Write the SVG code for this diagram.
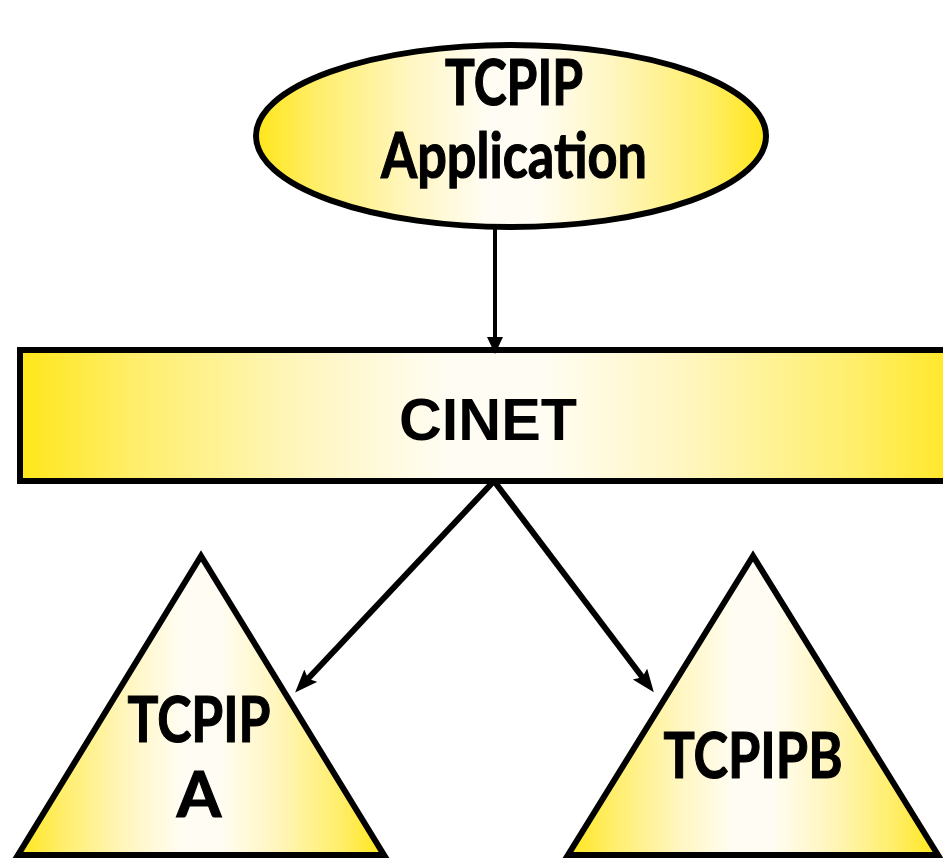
<svg xmlns="http://www.w3.org/2000/svg" width="943" height="858" viewBox="0 0 943 858">
  <defs>
    <linearGradient id="yg" x1="0" y1="0" x2="1" y2="0">
      <stop offset="0" stop-color="#FFE619"/>
      <stop offset="0.12" stop-color="#FFEE6A"/>
      <stop offset="0.3" stop-color="#FFF6C0"/>
      <stop offset="0.45" stop-color="#FFFDF3"/>
      <stop offset="0.55" stop-color="#FFFDF3"/>
      <stop offset="0.7" stop-color="#FFF6C0"/>
      <stop offset="0.88" stop-color="#FFEE6A"/>
      <stop offset="1" stop-color="#FFE619"/>
    </linearGradient>
    <marker id="headBig" markerUnits="userSpaceOnUse" markerWidth="24" markerHeight="20" refX="10" refY="9" orient="auto">
      <path d="M0,0 L23,9 L0,18 L4,9 z" fill="#000"/>
    </marker>
    <marker id="headSmall" markerUnits="userSpaceOnUse" markerWidth="17" markerHeight="17" refX="8" refY="8" orient="auto">
      <path d="M0,0 L17,8 L0,16 z" fill="#000"/>
    </marker>
    <style>
      .shape { fill: url(#yg); stroke: #000; stroke-width: 6; }
      .hum { font-family: Lato, "Open Sans", "Noto Sans", sans-serif; font-weight: 700; font-size: 64px; fill: #000; stroke: #000; stroke-width: 1.2; text-anchor: middle; }
      .arial { font-family: "Liberation Sans", Arial, sans-serif; font-weight: 700; font-size: 60px; fill: #000; text-anchor: middle; }
      .conn { stroke: #000; fill: none; }
    </style>
  </defs>

  <g id="app">
    <ellipse class="shape" cx="511" cy="136" rx="255" ry="91"/>
    <text class="hum" x="514" y="105" textLength="138" lengthAdjust="spacingAndGlyphs">TCPIP</text>
    <text class="hum" x="514" y="178" textLength="266" lengthAdjust="spacingAndGlyphs">Application</text>
  </g>

  <g id="cinet">
    <rect class="shape" x="20" y="350" width="950" height="131"/>
    <text class="arial" x="488" y="440" textLength="178" lengthAdjust="spacingAndGlyphs">CINET</text>
  </g>

  <g id="tcpipa">
    <polygon class="shape" points="201,556 18,855 384,855"/>
    <text class="hum" x="199" y="742" textLength="143" lengthAdjust="spacingAndGlyphs">TCPIP</text>
    <text class="hum" x="199" y="817">A</text>
  </g>

  <g id="tcpipb">
    <polygon class="shape" points="753,556 568,855 938,855"/>
    <text class="hum" x="753" y="778" textLength="179" lengthAdjust="spacingAndGlyphs">TCPIPB</text>
  </g>

  <g id="connectors">
    <line class="conn" x1="495" y1="229" x2="495" y2="345" stroke-width="4" marker-end="url(#headSmall)"/>
    <line class="conn" x1="494" y1="481" x2="304" y2="683" stroke-width="6" marker-end="url(#headBig)"/>
    <line class="conn" x1="494" y1="481" x2="646" y2="682" stroke-width="6" marker-end="url(#headBig)"/>
  </g>
</svg>
